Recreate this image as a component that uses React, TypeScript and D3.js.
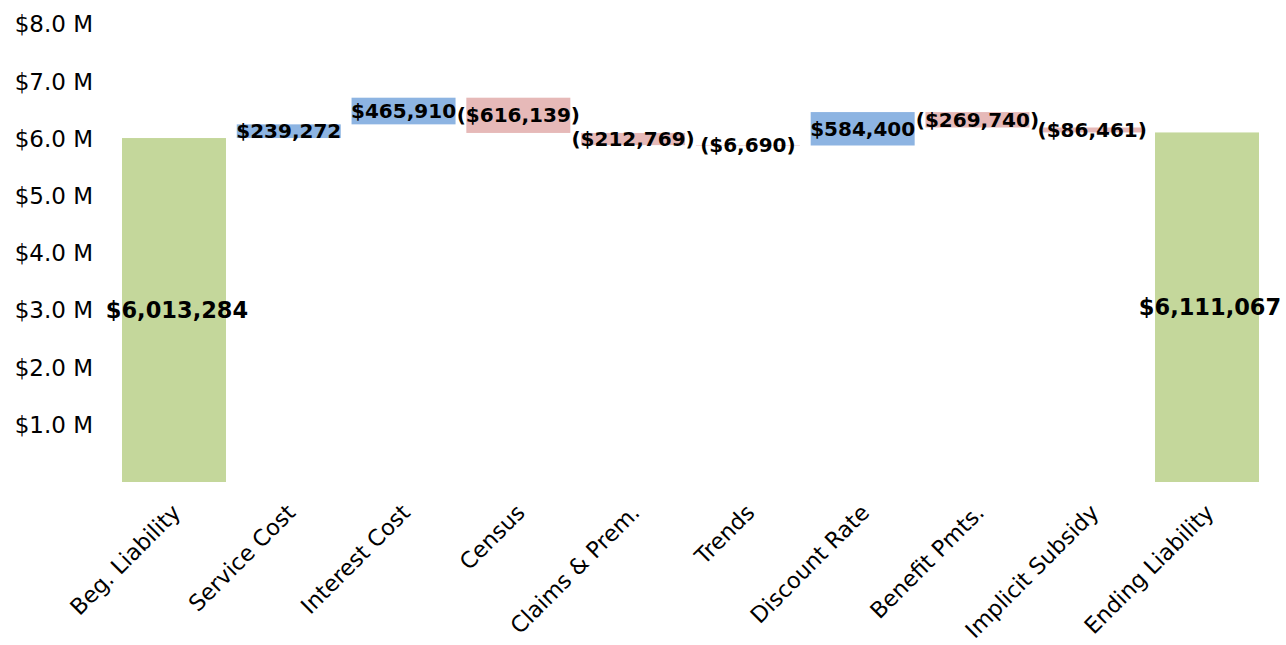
import React from "react";
import * as d3 from "d3";

const categories = [
  "Beg. Liability",
  "Service Cost",
  "Interest Cost",
  "Census",
  "Claims & Prem.",
  "Trends",
  "Discount Rate",
  "Benefit Pmts.",
  "Implicit Subsidy",
  "Ending Liability",
];
const changes = [6013284, 239272, 465910, -616139, -212769, -6690, 584400, -269740, -86461, 6111067];
const kinds = ["total", "delta", "delta", "delta", "delta", "delta", "delta", "delta", "delta", "total"];
const yTicks = [1e6, 2e6, 3e6, 4e6, 5e6, 6e6, 7e6, 8e6];

const W = 1286;
const H = 645;
const FONT = "'DejaVu Sans', Verdana, sans-serif";

const GREEN = "#c4d79b";
const BLUE = "#8db4e2";
const PINK = "#e6b9b8";

function fmtMoney(v: number) {
  const s = "$" + d3.format(",")(Math.abs(v));
  return v < 0 ? "(" + s + ")" : s;
}

export default function App() {
  const x = d3
    .scaleBand<string>()
    .domain(categories)
    .range([116.6, 1264.4])
    .paddingInner(0.094)
    .paddingOuter(0.047);
  const y = d3.scaleLinear().domain([0, 8e6]).range([482, 24.4]);

  let running = 0;
  const bars = categories.map((c, i) => {
    const v = changes[i];
    let lo: number, hi: number, color: string;
    if (kinds[i] === "total") {
      lo = 0;
      hi = v;
      running = v;
      color = GREEN;
    } else {
      const start = running;
      const end = running + v;
      lo = Math.min(start, end);
      hi = Math.max(start, end);
      running = end;
      color = v >= 0 ? BLUE : PINK;
    }
    return { c, v, lo, hi, color, total: kinds[i] === "total" };
  });

  return (
    <svg width={W} height={H} style={{ display: "block", position: "absolute", left: 0, top: 0 }}>
      <rect x={0} y={0} width={W} height={H} fill="#ffffff" />
      {yTicks.map((t) => (
        <text
          key={t}
          x={93}
          y={y(t)}
          textAnchor="end"
          dominantBaseline="central"
          fontFamily={FONT}
          fontSize={23}
          fill="#000"
        >
          {"$" + (t / 1e6).toFixed(1) + " M"}
        </text>
      ))}
      {bars.map((b) => (
        <rect
          key={b.c}
          x={x(b.c)}
          y={y(b.hi)}
          width={x.bandwidth()}
          height={Math.max(0.5, y(b.lo) - y(b.hi))}
          fill={b.color}
        />
      ))}
      {bars.map((b) => (
        <text
          key={"l" + b.c}
          x={(x(b.c) as number) + x.bandwidth() / 2 + (b.total ? 3 : 0)}
          y={y((b.lo + b.hi) / 2)}
          textAnchor="middle"
          dominantBaseline="central"
          fontFamily={FONT}
          fontWeight="bold"
          fontSize={b.total ? 22.5 : 20}
          fill="#000"
        >
          {fmtMoney(b.v)}
        </text>
      ))}
      {categories.map((c) => {
        const cx = (x(c) as number) + x.bandwidth() / 2;
        return (
          <text
            key={"c" + c}
            transform={`translate(${cx + 8},${514}) rotate(-45)`}
            textAnchor="end"
            fontFamily={FONT}
            fontSize={22.4}
            fill="#000"
          >
            {c}
          </text>
        );
      })}
    </svg>
  );
}
